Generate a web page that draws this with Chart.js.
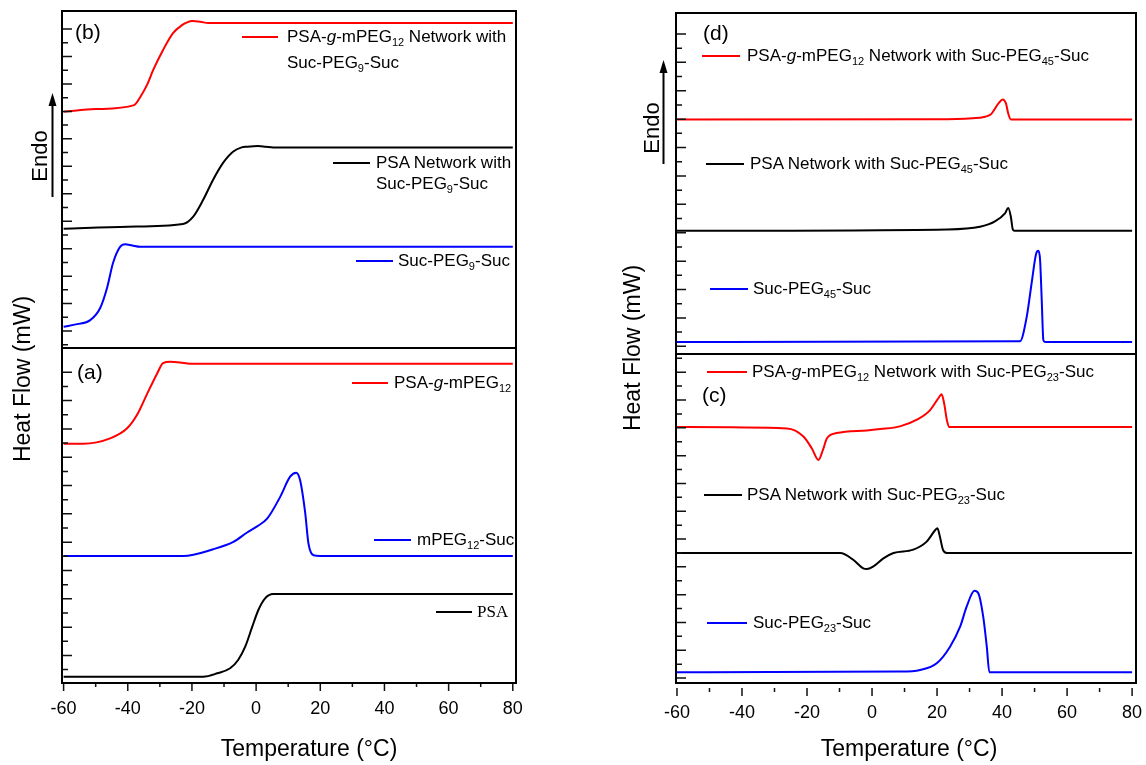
<!DOCTYPE html>
<html lang="en">
<head>
<meta charset="UTF-8">
<title>DSC curves</title>
<script src="https://cdn.jsdelivr.net/npm/chart.js"></script>
<style>
  body { margin: 0; background: #fff; }
  #page { position: relative; width: 1146px; height: 765px; overflow: hidden;
          font-family: "Liberation Sans", Arial, sans-serif; color: #000; }
  canvas { position: absolute; top: 0; }
  .lab { position: absolute; font-size: 17px; white-space: nowrap; }
  .key { position: absolute; height: 2px; }
  .tag { position: absolute; font-size: 21px; line-height: 24px; }
  .title { position: absolute; font-size: 23px; line-height: 26px; white-space: nowrap;
           transform: translate(-50%, -50%); }
  .rot { transform: translate(-50%, -50%) rotate(-90deg); }
  sub { font-size: 11px; vertical-align: -4px; line-height: 0; }
  .serif { font-family: "Liberation Serif", "Times New Roman", serif; }
</style>
</head>
<body>
<div id="page">
  <canvas id="left" width="560" height="765" style="left:0;width:560px;height:765px"></canvas>
  <canvas id="right" width="586" height="765" style="left:560px;width:586px;height:765px"></canvas>
</div>
<script>
// temperature (°C) / heat flow (offset, arbitrary units 0-100 per chart)
// panel (b)
const b1T = [-60, -50, -38, -36.1, -34, -32.1, -29.0, -25.9, -23.1, -21.5, -19.9, -17.4, -14.9, 80];
const b1H = [85.0, 85.4, 86.0, 87.2, 89.0, 91.2, 94.2, 96.7, 97.9, 98.3, 98.5, 98.4, 98.2, 98.2];
const b2T = [-60, -40, -22.8, -19.6, -16.5, -13.4, -10.3, -7.1, -4.5, -2.8, 0.6, 3, 5.3, 80];
const b2H = [67.6, 67.9, 68.3, 69.4, 71.9, 74.9, 77.4, 79.1, 79.7, 79.8, 79.9, 79.8, 79.7, 79.7];
const b3T = [-60, -55.8, -51.7, -48.6, -46.4, -44.6, -42.4, -40.8, -38.6, -36.1, 80];
const b3H = [53.0, 53.4, 54.0, 55.8, 58.9, 62.5, 64.9, 65.3, 65.1, 64.9, 64.9];
// panel (a)
const a1T = [-60, -53.9, -45.5, -40.2, -37.1, -33.9, -30.8, -29.0, -26.8, -23.7, -20.6, 80];
const a1H = [35.6, 35.6, 36.4, 37.9, 39.9, 43.1, 46.1, 47.6, 47.8, 47.7, 47.5, 47.5];
const a2T = [-60, -22.7, -13.4, -7.1, -2.8, 0.3, 3.5, 7.5, 10.6, 12.5, 13.7, 15.3, 16.3, 17.9, 20.0, 80];
const a2H = [18.9, 18.9, 19.9, 21.0, 22.4, 23.3, 24.5, 27.7, 30.7, 31.3, 30.2, 25.3, 20.8, 19.0, 18.9, 18.9];
const a3T = [-60, -16.5, -12.1, -8.1, -5.6, -3.4, -1.2, 0.7, 2.8, 5.3, 80];
const a3H = [0.94, 0.94, 1.44, 2.19, 3.42, 5.40, 8.38, 10.86, 12.60, 13.24, 13.24];
// panel (d)
const d1T = [-60, 20, 31, 36.3, 38.9, 40.2, 41.2, 41.9, 42.7, 80];
const d1H = [84.1, 84.15, 84.3, 84.8, 86.5, 87.1, 86.5, 85.0, 84.1, 84.1];
const d2T = [-60, 23, 33.2, 37.8, 40.9, 41.9, 42.7, 43.3, 44, 80];
const d2H = [67.5, 67.7, 68.1, 68.9, 70.1, 70.9, 69.6, 67.7, 67.5, 67.5];
const d3T = [-60, 45.5, 47.6, 49.1, 50.5, 51.2, 51.7, 52.2, 52.7, 53.2, 80];
const d3H = [50.9, 51.0, 54.7, 59.7, 64.1, 64.5, 63.1, 57.2, 51.2, 50.9, 50.9];
// panel (c)
const c1T = [-60, -26.2, -21.1, -18.5, -16.5, -15.1, -13.9, -10.9, -1.6, 2.5, 8.6, 13.8, 17.8, 20.4, 21.4, 22.2, 23.0, 23.8, 80];
const c1H = [38.2, 38.0, 36.8, 35.0, 33.3, 34.8, 36.5, 37.3, 37.7, 37.9, 38.3, 39.3, 40.7, 42.5, 43.1, 41.7, 39.3, 38.2, 38.2];
const c2T = [-60, -9.8, -5.8, -2.7, -1.6, 0.4, 3.5, 6.6, 12.7, 16.8, 19.4, 20.1, 20.9, 21.8, 23.0, 80];
const c2H = [19.4, 19.4, 18.4, 17.1, 17.0, 17.4, 18.6, 19.4, 19.9, 21.1, 22.8, 23.1, 21.8, 19.9, 19.4, 19.4];
const c3T = [-60, 8.6, 14.8, 19.9, 24.0, 27.1, 29.1, 31.5, 32.7, 34.2, 35.3, 36.1, 80];
const c3H = [1.6, 1.7, 1.94, 2.94, 5.42, 8.40, 11.39, 13.78, 13.39, 9.90, 5.42, 1.6, 1.6];

const xLabels = [-60, -40, -20, 0, 20, 40, 60, 80];
const RED = '#ff0000', BLUE = '#0000ff', BLACK = '#000000';
const FONT = '"Liberation Sans", Arial, sans-serif';

function curve(T, H, color) {
  return {
    data: T.map((t, i) => ({ x: t, y: H[i] })),
    borderColor: color, borderWidth: 2, pointRadius: 0,
    cubicInterpolationMode: 'monotone', fill: false
  };
}

// frame, divider, inward y ticks, outward x ticks, Endo arrow
const framePlugin = {
  id: 'frame',
  afterDatasetsDraw(chart, args, o) {
    const { ctx, chartArea: a } = chart;
    const xs = chart.scales.x, ys = chart.scales.y;
    ctx.save();
    ctx.strokeStyle = '#111';
    ctx.lineWidth = 1.5;
    ctx.beginPath();
    o.yTicks.forEach(seg => {
      for (let i = 0; i < seg.count; i++) {
        const py = ys.getPixelForValue(seg.start - i * seg.step);
        const len = (i % 2 === seg.major) ? 10 : 6;
        ctx.moveTo(a.left, py);
        ctx.lineTo(a.left + len, py);
      }
    });
    for (let v = -60; v <= 80; v += 10) {
      const px = xs.getPixelForValue(v);
      const len = v % 20 === 0 ? o.xMajor : o.xMinor;
      ctx.moveTo(px, a.bottom + o.xGap);
      ctx.lineTo(px, a.bottom + o.xGap + len);
    }
    ctx.stroke();
    ctx.lineWidth = 2;
    ctx.strokeStyle = '#000';
    ctx.strokeRect(a.left, a.top, a.right - a.left, a.bottom - a.top);
    const yd = ys.getPixelForValue(o.divider);
    ctx.beginPath();
    ctx.moveTo(a.left, yd);
    ctx.lineTo(a.right, yd);
    ctx.stroke();
    // Endo arrow
    const ar = o.arrow;
    ctx.lineWidth = 2;
    ctx.beginPath();
    ctx.moveTo(ar.x, ar.y2);
    ctx.lineTo(ar.x, ar.y1 + 10);
    ctx.stroke();
    ctx.fillStyle = '#000';
    ctx.beginPath();
    ctx.moveTo(ar.x, ar.y1);
    ctx.lineTo(ar.x - 4, ar.y1 + 13);
    ctx.lineTo(ar.x + 4, ar.y1 + 13);
    ctx.closePath();
    ctx.fill();
    ctx.restore();
  }
};

function makeChart(id, datasets, cfg) {
  return new Chart(document.getElementById(id), {
    type: 'line',
    data: { datasets },
    options: {
      responsive: false,
      animation: false,
      layout: { padding: cfg.padding },
      plugins: {
        legend: { display: false },
        tooltip: { enabled: false },
        frame: cfg.frame
      },
      scales: {
        x: {
          type: 'linear', min: cfg.xMin, max: cfg.xMax,
          afterBuildTicks: s => { s.ticks = xLabels.map(v => ({ value: v })); },
          afterFit: s => { s.height = 82; s.paddingLeft = 0; s.paddingRight = 0; },
          grid: { display: false },
          border: { display: false },
          ticks: {
            color: '#000', padding: cfg.labelPad, maxRotation: 0, autoSkip: false,
            font: { family: FONT, size: 18 },
            callback: v => String(v)
          }
        },
        y: { type: 'linear', min: 0, max: 100, display: false }
      }
    },
    plugins: [framePlugin]
  });
}

makeChart('left', [
  curve(b1T, b1H, RED), curve(b2T, b2H, BLACK), curve(b3T, b3H, BLUE),
  curve(a1T, a1H, RED), curve(a2T, a2H, BLUE), curve(a3T, a3H, BLACK)
], {
  xMin: -60.5, xMax: 81, labelPad: 7,
  padding: { left: 62, top: 11, right: 44, bottom: 0 },
  frame: {
    divider: 49.85, xGap: 0, xMajor: 8, xMinor: 4,
    arrow: { x: 52.5, y1: 93, y2: 197 },
    yTicks: [
      { start: 97.32, step: 2.043, count: 24, major: 0 },
      { start: 46.24, step: 2.107, count: 22, major: 0 }
    ]
  }
});

makeChart('right', [
  curve(d1T, d1H, RED), curve(d2T, d2H, BLACK), curve(d3T, d3H, BLUE),
  curve(c1T, c1H, RED), curve(c2T, c2H, BLACK), curve(c3T, c3H, BLUE)
], {
  xMin: -60.3, xMax: 81.2, labelPad: 11,
  padding: { left: 116, top: 13, right: 10, bottom: 0 },
  frame: {
    divider: 49.1, xGap: 5, xMajor: 8, xMinor: 4,
    arrow: { x: 663.5 - 560, y1: 60, y2: 164 },
    yTicks: [
      { start: 96.87, step: 2.119, count: 23, major: 0 },
      { start: 48.46, step: 2.075, count: 24, major: 1 }
    ]
  }
});

// annotations: legend keys, panel tags, axis titles
const page = document.getElementById('page');
const PEG12 = 'PSA-<i>g</i>-mPEG<sub>12</sub>';
const keys = [
  { x1: 242, x2: 278, y: 37, tx: 287, lh: 26.5, color: RED, html: PEG12 + ' Network with<br>Suc-PEG<sub>9</sub>-Suc' },
  { x1: 333, x2: 370, y: 162.5, tx: 376, lh: 21, color: BLACK, html: 'PSA Network with<br>Suc-PEG<sub>9</sub>-Suc' },
  { x1: 356, x2: 393, y: 261, tx: 398, lh: 20, color: BLUE, html: 'Suc-PEG<sub>9</sub>-Suc' },
  { x1: 352, x2: 388, y: 382.5, tx: 394, lh: 20, color: RED, html: PEG12 },
  { x1: 374, x2: 411, y: 540, tx: 417, lh: 20, color: BLUE, html: 'mPEG<sub>12</sub>-Suc' },
  { x1: 436, x2: 472, y: 611.5, tx: 477, lh: 20, color: BLACK, html: 'PSA', cls: 'serif' },
  { x1: 702, x2: 740, y: 55.7, tx: 747, lh: 20, color: RED, html: PEG12 + ' Network with Suc-PEG<sub>45</sub>-Suc' },
  { x1: 706, x2: 744, y: 164.3, tx: 750, lh: 20, color: BLACK, html: 'PSA Network with Suc-PEG<sub>45</sub>-Suc' },
  { x1: 710, x2: 748, y: 289.3, tx: 753, lh: 20, color: BLUE, html: 'Suc-PEG<sub>45</sub>-Suc' },
  { x1: 707, x2: 747, y: 372.3, tx: 752, lh: 20, color: RED, html: PEG12 + ' Network with Suc-PEG<sub>23</sub>-Suc' },
  { x1: 704, x2: 742, y: 495, tx: 747, lh: 20, color: BLACK, html: 'PSA Network with Suc-PEG<sub>23</sub>-Suc' },
  { x1: 707, x2: 747, y: 622.7, tx: 753, lh: 20, color: BLUE, html: 'Suc-PEG<sub>23</sub>-Suc' }
];
keys.forEach(k => {
  const line = document.createElement('div');
  line.className = 'key';
  line.style.cssText = `left:${k.x1}px;top:${k.y - 1}px;width:${k.x2 - k.x1}px;background:${k.color}`;
  page.appendChild(line);
  const t = document.createElement('div');
  t.className = 'lab' + (k.cls ? ' ' + k.cls : '');
  t.style.cssText = `left:${k.tx}px;top:${k.y - k.lh / 2}px;line-height:${k.lh}px`;
  t.innerHTML = k.html;
  page.appendChild(t);
});

const tags = [['(b)', 75, 32], ['(a)', 77, 372], ['(d)', 703, 33], ['(c)', 702, 395]];
tags.forEach(([s, x, y]) => {
  const d = document.createElement('div');
  d.className = 'tag';
  d.style.cssText = `left:${x}px;top:${y - 12}px`;
  d.textContent = s;
  page.appendChild(d);
});

const titles = [
  ['Heat Flow (mW)', 22, 379, true], ['Heat Flow (mW)', 632, 348, true],
  ['Endo', 40, 156, true], ['Endo', 652, 128, true],
  ['Temperature (°C)', 309, 748, false], ['Temperature (°C)', 909, 748, false]
];
titles.forEach(([s, x, y, rot]) => {
  const d = document.createElement('div');
  d.className = 'title' + (rot ? ' rot' : '');
  if (s === 'Endo') d.style.fontSize = '22px';
  d.style.left = x + 'px';
  d.style.top = y + 'px';
  d.textContent = s;
  page.appendChild(d);
});
</script>
</body>
</html>
